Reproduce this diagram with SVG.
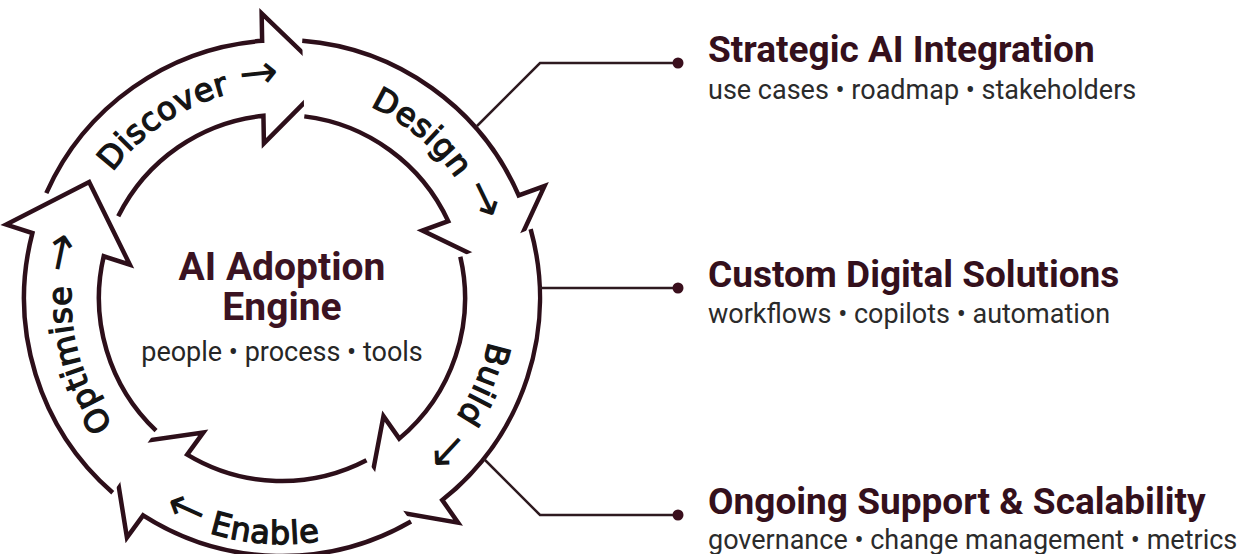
<svg xmlns="http://www.w3.org/2000/svg" width="1258" height="554" viewBox="0 0 1258 554">
  <defs>
    <style>
      .seg { fill: #ffffff; stroke: #2d0f1a; stroke-width: 4.5; stroke-linejoin: miter; stroke-miterlimit: 10; }
      .lbl { font-family: "DejaVu Sans", sans-serif; font-weight: 400; font-size: 32px; letter-spacing: 0.6px; fill: #141414; stroke: #141414; stroke-width: 1.3px; }
      .arr { font-family: "DejaVu Sans", sans-serif; font-weight: 400; font-size: 47px; stroke-width: 0; letter-spacing: 0; }
      .ctitle { font-family: Roboto, "Liberation Sans", sans-serif; font-weight: 700; font-size: 39px; fill: #3b1322; text-anchor: middle; }
      .csub { font-family: Roboto, "Liberation Sans", sans-serif; font-weight: 400; font-size: 27px; fill: #262626; text-anchor: middle; }
      .head { font-family: Roboto, "Liberation Sans", sans-serif; font-weight: 700; font-size: 37px; fill: #34101c; }
      .sub { font-family: Roboto, "Liberation Sans", sans-serif; font-weight: 400; font-size: 27px; fill: #2b2b2b; }
      .conn { fill: none; stroke: #2e1a20; stroke-width: 2.5; stroke-linejoin: miter; }
      .dot { fill: #3a0f1d; }
    </style>
    <path id="tp-discover" d="M71.29,286.96 A211,211 0 0 1 396.92,121.04"/>
    <path id="tp-design" d="M234.54,92.41 A211,211 0 0 1 483.78,359.69"/>
    <path id="tp-build" d="M464.73,192.5 A211,211 0 0 1 282,509"/>
    <path id="tp-optimise" d="M209.83,496.27 A211,211 0 0 1 146.37,136.37"/>
    <path id="tp-enable" d="M39.74,340.72 A246,246 0 0 0 495.04,421"/>
  </defs>
  <rect width="1258" height="554" fill="#ffffff"/>

  <g id="node-discover">
    <path class="seg" d="M46.3,193.06 A258,258 0 0 1 262.13,40.85 L261.65,13.35 L328.78,77.92 L263.91,143.33 L263.43,115.83 A183,183 0 0 0 118.23,216.35"/>
    <text class="lbl"><textPath href="#tp-discover" startOffset="50%" text-anchor="middle">Discover&#160;<tspan class="arr">→</tspan></textPath></text>
  </g>
  <g id="node-design">
    <path class="seg" d="M302.24,40.79 A258,258 0 0 1 518.68,195.48 L544.52,186.08 L505.32,270.58 L422.36,230.54 L448.2,221.14 A183,183 0 0 0 304.3,116.36"/>
    <text class="lbl"><textPath href="#tp-design" startOffset="50%" text-anchor="middle">Design&#160;<tspan class="arr">→</tspan></textPath></text>
  </g>
  <g id="node-build">
    <path class="seg" d="M530.62,229.05 A258,258 0 0 1 442.27,500.08 L458.04,522.6 L366.29,506.62 L383.48,416.12 L399.25,438.64 A183,183 0 0 0 460.31,256.83"/>
    <text class="lbl"><textPath href="#tp-build" startOffset="50%" text-anchor="middle">Build&#160;<tspan class="arr">→</tspan></textPath></text>
  </g>
  <g id="node-enable">
    <path class="seg" d="M411,521.43 A258,258 0 0 1 143.11,515.34 L126.94,537.59 L112.19,445.61 L203.36,432.41 L187.19,454.66 A183,183 0 0 0 366.5,460.32"/>
    <text class="lbl"><textPath href="#tp-enable" startOffset="50%" text-anchor="middle"><tspan class="arr">←</tspan>&#160;Enable</textPath></text>
  </g>
  <g id="node-optimise">
    <path class="seg" d="M112.74,492.72 A258,258 0 0 1 32.39,233.07 L6.23,224.57 L89.14,182.12 L129.87,264.75 L103.71,256.25 A183,183 0 0 0 156.03,430.74"/>
    <text class="lbl"><textPath href="#tp-optimise" startOffset="50%" text-anchor="middle">Optimise&#160;<tspan class="arr">→</tspan></textPath></text>
  </g>

  <g id="node-center">
    <text class="ctitle" x="282" y="280">AI Adoption</text>
    <text class="ctitle" x="282" y="320">Engine</text>
    <text class="csub" x="282" y="361">people • process • tools</text>
  </g>

  <g id="connectors">
    <polyline class="conn" points="477,126 540,63 678,63"/>
    <polyline class="conn" points="540,288 678,288"/>
    <polyline class="conn" points="484,459 540,515 678,515"/>
    <circle class="dot" cx="678" cy="63" r="5.5"/>
    <circle class="dot" cx="678" cy="288" r="5.5"/>
    <circle class="dot" cx="678" cy="515" r="5.5"/>
  </g>

  <g id="node-strategic">
    <text class="head" x="708" y="62">Strategic AI Integration</text>
    <text class="sub" x="708" y="99">use cases • roadmap • stakeholders</text>
  </g>
  <g id="node-custom">
    <text class="head" x="708" y="287">Custom Digital Solutions</text>
    <text class="sub" x="708" y="323">workflows • copilots • automation</text>
  </g>
  <g id="node-ongoing">
    <text class="head" x="708" y="514">Ongoing Support &amp; Scalability</text>
    <text class="sub" x="708" y="549">governance • change management • metrics</text>
  </g>
</svg>
